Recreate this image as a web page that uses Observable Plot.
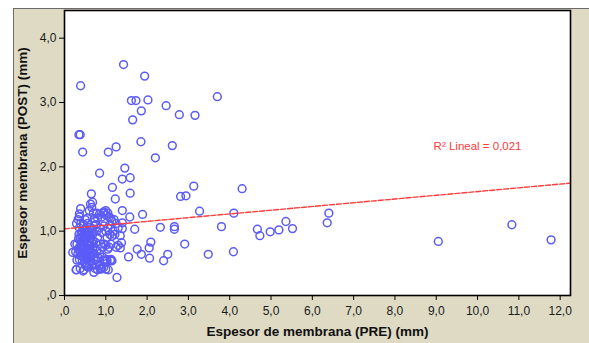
<!DOCTYPE html>
<html>
<head>
<meta charset="utf-8">
<script src="https://cdn.jsdelivr.net/npm/d3@7"></script>
<script src="https://cdn.jsdelivr.net/npm/@observablehq/plot@0.6"></script>
<style>
  html, body { margin: 0; padding: 0; background: #ffffff; }
  #wrap { position: relative; width: 589px; height: 343px; overflow: hidden; background: #ffffff; }
  #panel { position: absolute; left: 13px; top: 8px; width: 600px; height: 360px; background: #dedac4; border-left: 1px solid #6b6b6b; border-top: 1px solid #6b6b6b; }
  #chart { position: absolute; left: 0; top: 0; }
  #chart svg { background: transparent !important; }
</style>
</head>
<body>
<div id="wrap"><div id="panel"></div><div id="chart"></div></div>
<script>
// Tick values
const xTicks = [0, 1, 2, 3, 4, 5, 6, 7, 8, 9, 10, 11, 12];
const yTicks = [0, 1, 2, 3, 4];

// Axis titles / annotation
const xTitle = "Espesor de membrana (PRE) (mm)";
const yTitle = "Espesor membrana (POST) (mm)";
const fitLabel = "R² Lineal = 0,021";

// Linear fit
const fitIntercept = 1.036;
const fitSlope = 0.058;

// Scattered points: [PRE, POST]
const spreadPoints = [
  [1.43,3.59],[1.94,3.41],[0.39,3.26],[3.70,3.09],[1.62,3.03],[1.73,3.03],[2.02,3.04],[2.46,2.95],
  [1.86,2.87],[1.65,2.73],[2.78,2.81],[3.16,2.80],[0.35,2.50],[0.38,2.50],[1.85,2.39],[1.25,2.31],
  [1.06,2.23],[0.44,2.23],[2.61,2.33],[2.20,2.14],[1.46,1.98],[0.85,1.90],[1.59,1.83],[1.40,1.81],
  [3.13,1.70],[1.16,1.68],[4.30,1.66],[0.65,1.58],[1.59,1.59],[2.81,1.54],[2.94,1.55],[1.23,1.50],
  [3.27,1.31],[4.10,1.28],[1.89,1.26],[1.40,1.32],[1.58,1.22],[3.80,1.07],[2.32,1.06],[2.66,1.07],
  [2.66,1.03],[1.70,1.03],[4.67,1.03],[4.73,0.93],[4.98,0.99],[5.19,1.02],[5.36,1.15],[5.52,1.04],
  [6.36,1.13],[6.40,1.28],[9.05,0.84],[10.83,1.10],[11.78,0.865],[2.91,0.80],[2.05,0.74],[2.09,0.83],
  [1.76,0.72],[1.86,0.64],[1.55,0.60],[2.06,0.58],[2.50,0.64],[2.40,0.54],[3.48,0.64],[4.09,0.68],
  [1.27,0.28],[1.35,0.74],[1.38,0.82],[1.13,0.56],[1.02,0.56],[1.06,0.40],[0.29,0.40]
];

// Dense cluster near the origin: [PRE, POST]
const clusterPoints = [
  [0.30,0.80],[0.33,0.72],[0.35,0.95],[0.36,1.05],[0.38,0.88],[0.40,0.62],[0.40,0.78],[0.42,1.00],
  [0.43,0.55],[0.44,0.92],[0.45,0.70],[0.46,1.10],[0.47,0.83],[0.48,0.60],[0.49,0.97],[0.50,0.75],
  [0.50,0.50],[0.51,1.04],[0.52,0.88],[0.53,0.66],[0.54,0.45],[0.55,0.93],[0.55,0.80],[0.56,1.12],
  [0.57,0.58],[0.58,0.72],[0.59,0.98],[0.60,0.85],[0.60,0.52],[0.61,0.68],[0.62,1.06],[0.63,0.78],
  [0.64,0.90],[0.65,0.62],[0.66,0.47],[0.67,0.99],[0.68,0.73],[0.69,0.86],[0.70,0.56],[0.71,1.08],
  [0.72,0.65],[0.32,0.64],[0.34,0.88],[0.37,0.76],[0.39,1.12],[0.41,0.84],[0.44,0.66],[0.46,0.78],
  [0.48,0.90],[0.52,0.58],[0.53,0.98],[0.56,0.70],[0.58,0.84],[0.61,0.94],[0.63,0.60],[0.66,0.82],
  [0.68,0.95],[0.70,0.76],[0.36,0.56],[0.42,0.70],[0.47,1.02],[0.51,0.64],[0.54,0.82],[0.57,1.00],
  [0.62,0.72],[0.65,1.02],[0.69,0.64],[0.40,0.96],[0.45,0.84],[0.50,0.92],[0.55,0.62],[0.60,0.78],
  [0.64,0.54],[0.38,0.68],[0.43,0.78],
  [0.20,0.67],[0.25,0.80],[0.28,0.40],[0.29,1.12],[0.30,0.55],[0.27,0.68],[0.33,1.18],[0.36,1.22],
  [0.36,1.27],[0.39,1.35],[0.38,0.42],[0.45,0.38],[0.47,0.40],[0.52,0.46],[0.58,0.44],[0.63,1.42],
  [0.66,1.37],[0.68,1.45],[0.60,1.32],[0.55,1.20],[0.50,1.18],[0.71,0.36],[0.74,0.42],[0.77,0.48],
  [0.80,0.40],[0.85,0.46],[0.90,0.42],[0.95,0.44],[1.00,0.41],[0.87,0.41],[0.75,0.55],[0.80,0.60],
  [0.78,0.70],[0.76,0.82],[0.80,0.90],[0.78,1.00],[0.76,1.10],[0.80,1.20],[0.78,1.28],[0.84,1.26],
  [0.90,1.22],[0.95,1.30],[1.00,1.25],[1.05,1.28],[1.08,1.22],[1.12,1.20],[1.15,1.15],[1.20,1.18],
  [1.10,1.10],[1.05,1.05],[1.00,1.00],[0.95,1.08],[0.90,0.98],[0.85,1.05],[0.88,0.80],[0.92,0.75],
  [0.96,0.80],[1.00,0.78],[1.05,0.72],[1.08,0.75],[1.12,0.80],[1.03,0.90],[1.10,0.95],[1.15,0.92],
  [1.18,1.00],[0.85,0.65],[0.92,0.60],[0.95,0.55],[0.99,0.54],[1.11,0.54],[1.25,0.75],[1.30,0.78],
  [1.35,0.93],[1.40,1.04],[1.40,1.13],[1.30,1.05],[1.25,1.12],[1.22,0.95],[1.00,1.32],[0.93,1.28],
  [0.72,1.20],[0.70,1.28],[0.74,1.15],[0.87,0.42],[1.03,0.54],[1.15,0.54]
];

const points = spreadPoints.concat(clusterPoints).map(([pre, post]) => ({pre, post}));
const xMax = 12.25;
const yMax = 4.43;
const fmt = d => d === 0 ? ",0" : d.toFixed(1).replace(".", ",");
const fitX = [0, xMax];

const chart = Plot.plot({
  width: 589,
  height: 343,
  marginLeft: 64,
  marginRight: 19,
  marginTop: 10,
  marginBottom: 48,
  style: {fontFamily: "'Liberation Sans', Arial, sans-serif", fontSize: "12px", color: "#1a1a1a", background: "transparent"},
  x: {domain: [0, xMax], ticks: xTicks, tickFormat: fmt, tickSize: 5, tickPadding: 6, label: null},
  y: {domain: [0, yMax], ticks: yTicks, tickFormat: fmt, tickSize: 5, tickPadding: 3, label: null},
  marks: [
    Plot.frame({fill: "white", stroke: null}),
    Plot.dot(points, {x: "pre", y: "post", r: 3.9, stroke: "#5b5bf8", strokeWidth: 1.5, fill: "none"}),
    Plot.line(fitX, {x: d => d, y: d => fitIntercept + fitSlope * d, stroke: "#ff3a3a", strokeWidth: 1.4, strokeDasharray: "5,2"}),
    Plot.text([fitLabel], {x: () => 10.0, y: () => 2.32, text: d => d, fill: "#ff3a3a", fontSize: 11.5, textAnchor: "middle"}),
    Plot.frame({stroke: "black", strokeWidth: 1.6}),
    Plot.axisX({ticks: xTicks, tickFormat: fmt, tickSize: 5, tickPadding: 6, label: null, stroke: "black"}),
    Plot.axisY({ticks: yTicks, tickFormat: fmt, tickSize: 5, tickPadding: 3, label: null, stroke: "black"}),
    Plot.text([xTitle], {frameAnchor: "bottom", dy: 36, lineAnchor: "middle", textAnchor: "middle", text: d => d, fontWeight: "bold", fontSize: 13.5, fill: "#111"}),
    Plot.text([yTitle], {frameAnchor: "left", dx: -42, rotate: -90, lineAnchor: "middle", textAnchor: "middle", text: d => d, fontWeight: "bold", fontSize: 13.5, fill: "#111"})
  ]
});
document.getElementById("chart").appendChild(chart);
</script>
</body>
</html>
